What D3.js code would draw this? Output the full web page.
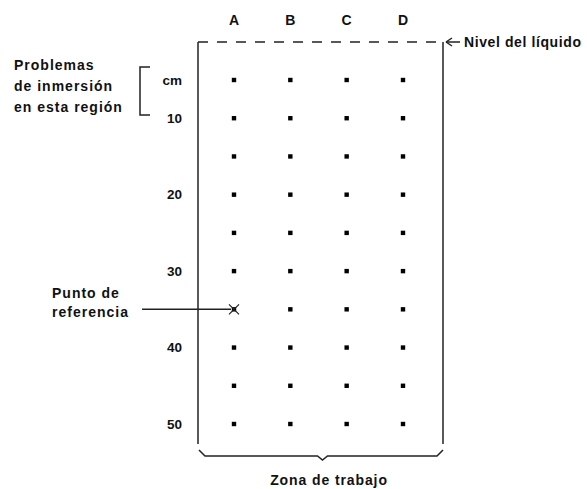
<!DOCTYPE html>
<html>
<head>
<meta charset="utf-8">
<script src="https://cdn.jsdelivr.net/npm/d3@7"></script>
<style>
html,body{margin:0;padding:0;background:#fff;}
svg{display:block;}
text{font-family:"Liberation Sans",Arial,sans-serif;font-weight:bold;fill:#111;}
</style>
</head>
<body>
<svg id="c" width="587" height="489"></svg>
<script>
// ---- data ----
const columns = ["A", "B", "C", "D"];
const depths = [5, 10, 15, 20, 25, 30, 35, 40, 45, 50];
const tickValues = [5, 10, 20, 30, 40, 50];
const tickLabels = ["cm", "10", "20", "30", "40", "50"];
const referencePoint = { col: "A", depth: 35 };
const leftNote = ["Problemas", "de inmersión", "en esta región"];
const refNote = ["Punto de", "referencia"];
const levelLabel = "Nivel del líquido";
const zoneLabel = "Zona de trabajo";

// ---- drawing ----
(function () {
const svg = d3.select("#c");
const x = d3.scalePoint().domain(columns).range([234, 403]);
const y = d3.scaleLinear().domain([5, 50]).range([80, 424]);
const ink = "#222";
const sw = 1.5;

// column labels
svg.selectAll("text.col").data(columns).join("text")
  .attr("class", "col").attr("x", d => x(d)).attr("y", 25)
  .attr("text-anchor", "middle").style("font-size", "14px").text(d => d);

// depth axis labels
const axis = d3.axisLeft(y).tickValues(tickValues)
  .tickFormat((d, i) => tickLabels[i]).tickSize(0).tickPadding(0);
const ag = svg.append("g").attr("transform", "translate(182,0)").call(axis);
ag.select(".domain").remove();
ag.selectAll("text").style("font-size", "13.5px").style("font-family", "'Liberation Sans',Arial,sans-serif")
  .style("font-weight", "bold").attr("fill", "#111");

// grid of dots
const cells = [];
columns.forEach(c => depths.forEach(d => cells.push({ c, d })));
svg.selectAll("rect.dot").data(cells).join("rect")
  .attr("class", "dot")
  .attr("x", d => x(d.c) - 2.2).attr("y", d => y(d.d) - 2.2)
  .attr("width", 4.4).attr("height", 4.4).attr("fill", "#000");

// container: dashed top, solid sides
const bL = 198, bR = 443, bT = 42, bB = 444;
svg.append("line").attr("x1", bL).attr("x2", bR).attr("y1", bT).attr("y2", bT)
  .attr("stroke", ink).attr("stroke-width", sw).attr("stroke-dasharray", "10,9");
svg.append("line").attr("x1", bL).attr("x2", bL).attr("y1", bT).attr("y2", bB)
  .attr("stroke", ink).attr("stroke-width", sw);
svg.append("line").attr("x1", bR).attr("x2", bR).attr("y1", bT).attr("y2", bB)
  .attr("stroke", ink).attr("stroke-width", sw);

// liquid level arrow + label
svg.append("line").attr("x1", 446).attr("x2", 460).attr("y1", bT).attr("y2", bT)
  .attr("stroke", ink).attr("stroke-width", sw);
svg.append("path").attr("d", `M446,${bT} l6,-4 M446,${bT} l6,4`)
  .attr("stroke", ink).attr("stroke-width", sw).attr("fill", "none");
svg.append("text").attr("x", 464).attr("y", bT + 5).style("font-size", "14px")
  .style("letter-spacing", "0.6px").text(levelLabel);

// bottom brace
const bY = 456, mid = (bL + bR) / 2 + 2;
svg.append("path")
  .attr("d", `M${bL + 1},${bB + 6} L${bL + 7},${bY} L${mid - 5},${bY} L${mid},${bY + 4} L${mid + 5},${bY} L${bR - 6},${bY} L${bR},${bB + 6}`)
  .attr("stroke", ink).attr("stroke-width", sw).attr("fill", "none");
svg.append("text").attr("x", 329).attr("y", 485).attr("text-anchor", "middle")
  .style("font-size", "14px").style("letter-spacing", "0.9px").text(zoneLabel);

// left note with bracket
svg.selectAll("text.note").data(leftNote).join("text")
  .attr("class", "note").attr("x", 14).attr("y", (d, i) => 70 + i * 21)
  .style("font-size", "14px").style("letter-spacing", "1px").text(d => d);
svg.append("path").attr("d", "M150,67 L140,67 L140,115 L150,115")
  .attr("stroke", ink).attr("stroke-width", sw).attr("fill", "none");

// reference point
const rx = x(referencePoint.col), ry = y(referencePoint.depth);
svg.selectAll("text.ref").data(refNote).join("text")
  .attr("class", "ref").attr("x", 52).attr("y", (d, i) => 298 + i * 19)
  .style("font-size", "14px").style("letter-spacing", "1px").text(d => d);
svg.append("line").attr("x1", 142).attr("x2", rx - 3).attr("y1", ry).attr("y2", ry)
  .attr("stroke", ink).attr("stroke-width", sw);
svg.append("path").attr("d", `M${rx - 5},${ry - 5} L${rx + 5},${ry + 5} M${rx + 5},${ry - 5} L${rx - 5},${ry + 5}`)
  .attr("stroke", ink).attr("stroke-width", 1.2);
})();
</script>
</body>
</html>
